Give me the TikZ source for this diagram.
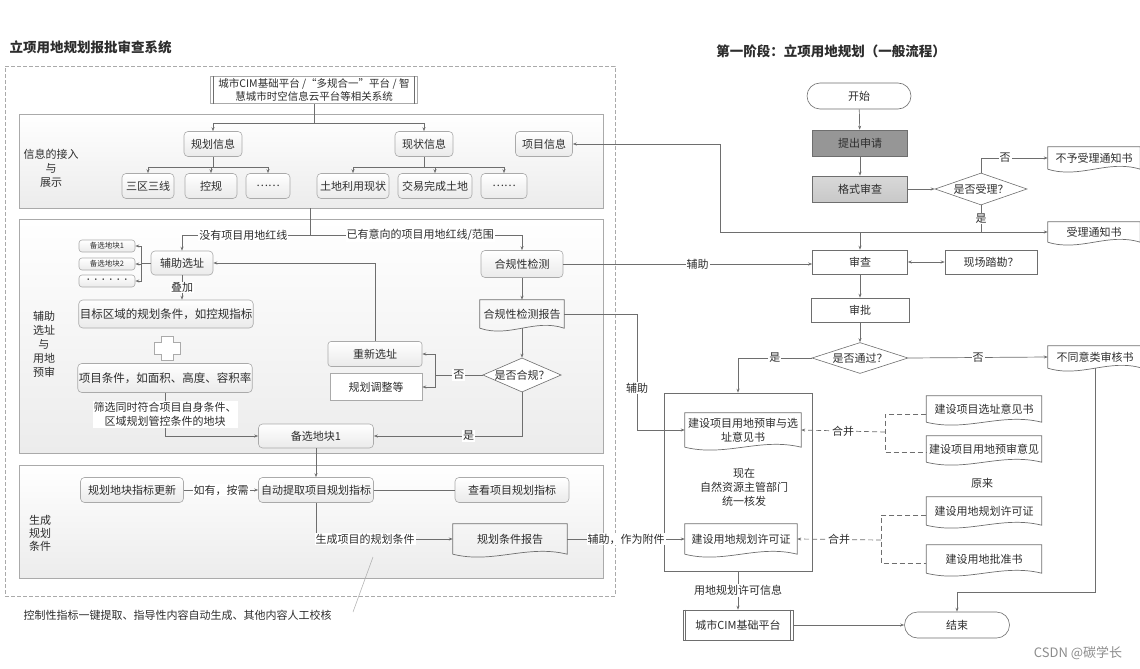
\documentclass[tikz,border=0pt]{standalone}
\usepackage{fontspec}
\setmainfont{Noto Sans CJK SC}
\usepackage{tikz}
\usetikzlibrary{shapes.geometric, arrows.meta, positioning, calc}
\definecolor{linecolor}{RGB}{110,110,110}
\definecolor{textcolor}{RGB}{45,45,45}
\definecolor{edgecolor}{RGB}{170,170,170}
\definecolor{boxshade}{RGB}{234,234,234}
\definecolor{panelshade}{RGB}{236,236,236}
\definecolor{applycolor}{RGB}{150,150,150}
\definecolor{formcolor}{RGB}{200,200,200}
\definecolor{markcolor}{RGB}{140,140,140}
\newcommand{\boxfont}{\fontsize{11}{14}\selectfont}
\newcommand{\bigboxfont}{\fontsize{11.5}{14}\selectfont}
\newcommand{\smallfont}{\fontsize{7.5}{9}\selectfont}
\newcommand{\titlefont}{\fontsize{13.5}{16}\selectfont\bfseries}
\newcommand{\docline}[1]{%
  \draw[wire] (#1.south west) -- (#1.north west) -- (#1.north east) -- (#1.south east)
    .. controls ($(#1.south east)!0.35!(#1.south west)+(0,10pt)$) and ($(#1.south east)!0.65!(#1.south west)+(0,-10pt)$) .. (#1.south west);}
\newcommand{\sidelines}[1]{%
  \draw[wire] ([xshift=3pt]#1.north west) -- ([xshift=3pt]#1.south west)
    ([xshift=-3pt]#1.north east) -- ([xshift=-3pt]#1.south east);}

\begin{document}
\begin{tikzpicture}[
    x=1pt, y=-1pt,
    wire/.style={draw=linecolor, line width=0.7pt},
    arrow/.style={wire, -{Stealth[length=4pt, width=3pt]}},
    dashwire/.style={wire, dash pattern=on 5pt off 3pt},
    dasharrow/.style={arrow, dash pattern=on 5pt off 3pt},
    panel/.style={draw=edgecolor, line width=0.6pt, top color=white, bottom color=panelshade},
    box/.style={draw=edgecolor, line width=0.6pt, rounded corners=4pt, top color=white, bottom color=boxshade, minimum height=25, inner sep=1pt, font=\boxfont, text=textcolor},
    flat/.style={draw=linecolor, line width=0.6pt, fill=white, minimum height=25, inner sep=1pt, font=\boxfont, text=textcolor},
    doc/.style={minimum height=26, inner sep=1pt, font=\boxfont, text=textcolor, align=center},
    decision/.style={diamond, draw=linecolor, line width=0.6pt, fill=white, inner sep=0pt, font=\boxfont, text=textcolor},
    terminal/.style={draw=linecolor, line width=0.6pt, fill=white, rounded corners=13pt, minimum height=26, font=\boxfont, text=textcolor},
    lbl/.style={fill=white, inner sep=1pt, font=\boxfont, text=textcolor},
    plain/.style={font=\boxfont, text=textcolor, align=center},
]
    \useasboundingbox (0,0) rectangle (1140,669);

    % Titles
    \node[font=\titlefont, text=textcolor, anchor=west] (systitle) at (6,47) {立项用地规划报批审查系统};
    \node[font=\titlefont, text=textcolor] (flowtitle) at (831,51) {第一阶段：立项用地规划（一般流程）};

    % Frame and panels
    \node[draw=edgecolor, dash pattern=on 4pt off 2pt, minimum width=610, minimum height=530] (sysframe) at (310,331) {};
    \node[panel, minimum width=584, minimum height=94] (infopanel) at (311,161) {};
    \node[panel, minimum width=584, minimum height=234] (sitepanel) at (311,336) {};
    \node[panel, minimum width=584, minimum height=113] (condpanel) at (311,521.5) {};
    \node[plain] (infolabel) at (51,168) {信息的接入\\与\\展示};
    \node[plain] (sitelabel) at (44,344) {辅助\\选址\\与\\用地\\预审};
    \node[plain, font=\fontsize{11}{13}\selectfont] (condlabel) at (40,533) {生成\\规划\\条件};

    % Information access
    \node[flat, draw=edgecolor, minimum width=207, minimum height=27, align=center, font=\fontsize{10.5}{13}\selectfont] (sysbox) at (314,90) {城市CIM基础平台 /“多规合一”平台 / 智\\慧城市时空信息云平台等相关系统};
    \sidelines{sysbox}
    \node[box, minimum width=58] (planinfo) at (213,144) {规划信息};
    \node[box, minimum width=58] (statusinfo) at (424,144) {现状信息};
    \node[box, minimum width=57] (projinfo) at (544,144) {项目信息};
    \node[box, minimum width=52] (sanqu) at (148,186) {三区三线};
    \node[box, minimum width=52] (kongui) at (211,186) {控规};
    \node[box, minimum width=44] (planmore) at (268,186) {……};
    \node[box, minimum width=72] (landuse) at (353,186) {土地利用现状};
    \node[box, minimum width=74] (traded) at (435,186) {交易完成土地};
    \node[box, minimum width=46] (statusmore) at (504,186) {……};

    \coordinate (infosplit) at (314,123);
    \coordinate (plansplit) at (213,167);
    \coordinate (statussplit) at (424,167);
    \draw[wire] (sysbox.south) -- (infosplit);
    \draw[arrow] (infosplit) -| (planinfo.north);
    \draw[arrow] (infosplit) -| (statusinfo.north);
    \draw[wire] (planinfo.south) -- (plansplit);
    \draw[wire] (statusinfo.south) -- (statussplit);
    \foreach \n in {sanqu, kongui, planmore}
        \draw[arrow] (plansplit) -| (\n.north);
    \foreach \n in {landuse, traded, statusmore}
        \draw[arrow] (statussplit) -| (\n.north);

    % Site selection and pre-review
    \coordinate (sitesplit) at (310,235);
    \node[box, minimum width=62, minimum height=24] (assist) at (182,263) {辅助选址};
    \node[box, font=\smallfont, minimum width=56, minimum height=12, rounded corners=3pt] (cand1s) at (107,246) {备选地块1};
    \node[box, font=\smallfont, minimum width=56, minimum height=12, rounded corners=3pt] (cand2s) at (107,264) {备选地块2};
    \node[box, font=\smallfont, minimum width=56, minimum height=12, rounded corners=3pt] (candmore) at (107,281) {••••••};
    \coordinate (candsplit) at (141,263);
    \node[box, font=\bigboxfont, minimum width=170, minimum height=28] (targetcond) at (166,314) {目标区域的规划条件，如控规指标};
    \draw[draw=edgecolor, fill=white, line width=0.6pt, shift={(167,348)}] (-6,-12) -- (6,-12) -- (6,-6) -- (13,-6) -- (13,6) -- (6,6) -- (6,12) -- (-6,12) -- (-6,6) -- (-13,6) -- (-13,-6) -- (-6,-6) -- cycle;
    \node[box, font=\bigboxfont, minimum width=168, minimum height=29] (projcond) at (165,378) {项目条件，如面积、高度、容积率};
    \node[box, minimum width=115, minimum height=24] (cand1) at (316,436) {备选地块1};
    \node[box, minimum width=82, minimum height=27] (compcheck) at (522,264) {合规性检测};
    \node[doc, minimum width=84, minimum height=28] (compreport) at (522,314) {合规性检测报告};
    \docline{compreport}
    \node[decision, minimum width=78, minimum height=34, aspect=2.3] (compdec) at (522,375) {是否合规？};
    \node[box, minimum width=94, minimum height=25, rounded corners=3pt] (reselect) at (375,354) {重新选址};
    \node[flat, draw=edgecolor, minimum width=92, minimum height=27] (adjust) at (376,387) {规划调整等};
    \coordinate (nosplit) at (435,375);

    \draw[arrow] (sitesplit) -| node[lbl, pos=0.26] {没有项目用地红线} (assist.north);
    \draw[arrow] (sitesplit) -| node[lbl, pos=0.26] {已有意向的项目用地红线/范围} (compcheck.north);
    \draw[wire] (infopanel.south -| sitesplit) -- (sitesplit);
    \draw[wire] (assist.west) -- (candsplit);
    \foreach \n in {cand1s, cand2s, candmore}
        \draw[arrow] (candsplit) |- (\n.east);
    \draw[arrow] (assist.south) -- node[lbl] {叠加} (assist.south |- targetcond.north);
    \draw[arrow] (projcond.south) |- node[lbl, pos=0.25, align=center] {筛选同时符合项目自身条件、\\区域规划管控条件的地块} (cand1.west);
    \draw[arrow] (compcheck) -- (compreport);
    \draw[arrow] (compreport.south) -- (compdec.north);
    \draw[wire] (compdec.west) -- node[lbl] {否} (nosplit);
    \draw[arrow] (nosplit) |- (reselect.east);
    \draw[arrow] (nosplit) |- (adjust.east);
    \draw[arrow] (reselect.north) |- (assist.east);
    \draw[arrow] (compdec.south) |- node[lbl, pos=0.68] {是} (cand1.east);

    % Planning conditions
    \node[box, minimum width=103] (updateidx) at (132,490) {规划地块指标更新};
    \node[box, minimum width=115] (autoextract) at (316,490) {自动提取项目规划指标};
    \node[box, minimum width=114] (viewidx) at (512,490) {查看项目规划指标};
    \node[doc, minimum width=114, minimum height=30] (condreport) at (510,539) {规划条件报告};
    \docline{condreport}
    \draw[arrow] (cand1.south) -- (autoextract.north);
    \draw[arrow] (updateidx) -- node[lbl] {如有，按需} (autoextract);
    \draw[wire] (autoextract) -- (viewidx);
    \draw[arrow] (autoextract.south) |- node[lbl, pos=0.68] {生成项目的规划条件} (condreport.west);

    % Note
    \node[plain, anchor=west] (ctrlnote) at (20,615) {控制性指标一键提取、指导性内容自动生成、其他内容人工校核};
    \coordinate (notetip) at (373,557);
    \coordinate (notefoot) at (353,612);
    \draw[draw=edgecolor, line width=0.5pt] (notefoot) -- (notetip);

    % General flow
    \node[terminal, minimum width=104] (start) at (859,96) {开始};
    \node[flat, fill=applycolor, minimum width=95, minimum height=26] (apply) at (860,143) {提出申请};
    \node[flat, top color=formcolor!70, bottom color=formcolor, minimum width=95, minimum height=26] (formcheck) at (860,189) {格式审查};
    \node[decision, minimum width=92, minimum height=32, aspect=2.9] (acceptdec) at (981,189) {是否受理？};
    \node[doc, minimum width=92, minimum height=22] (rejectnote) at (1094,158) {不予受理通知书};
    \docline{rejectnote}
    \node[doc, minimum width=92, minimum height=20] (acceptnote) at (1094,232) {受理通知书};
    \docline{acceptnote}
    \coordinate (acceptjoin) at (981,232);
    \coordinate (projturn) at (720,232);
    \node[flat, minimum width=95, minimum height=24] (review) at (860,262) {审查};
    \node[flat, minimum width=92, minimum height=24] (survey) at (991,262) {现场踏勘？};
    \node[flat, minimum width=98, minimum height=24] (approve) at (860,310) {审批};
    \node[decision, minimum width=96, minimum height=31, aspect=3] (passdec) at (860,358) {是否通过？};
    \node[doc, minimum width=94, minimum height=22] (rejectreview) at (1095,357) {不同意类审核书};
    \docline{rejectreview}
    \coordinate (endturn) at (1095,592);

    \draw[arrow] (start) -- (apply);
    \draw[arrow] (apply) -- (formcheck);
    \draw[arrow] (formcheck) -- (acceptdec);
    \draw[arrow] (acceptdec.north) |- node[lbl, pos=0.68] {否} (rejectnote.west);
    \draw[wire] (acceptdec.south) -- node[lbl] {是} (acceptjoin);
    \draw[arrow] (acceptjoin) -- (acceptnote.west);
    \draw[arrow] (acceptjoin) -- (projturn) |- (projinfo.east);
    \draw[arrow] (review.north |- acceptjoin) -- (review.north);
    \draw[{Stealth[length=4pt, width=3pt]}-{Stealth[length=4pt, width=3pt]}, wire] (review) -- (survey);
    \draw[arrow] (compcheck.east) -- node[lbl, pos=0.54] {辅助} (compcheck.east -| review.west);
    \draw[arrow] (review) -- (approve);
    \draw[arrow] (approve) -- (passdec);
    \draw[arrow] (passdec.east) -- node[lbl] {否} (rejectreview.west);

    % Issued documents
    \node[draw=linecolor, line width=0.6pt, minimum width=148, minimum height=178] (bigbox) at (738,482) {};
    \node[doc, minimum width=116, minimum height=34] (prereview) at (743,430) {建设项目用地预审与选\\址意见书};
    \docline{prereview}
    \node[plain] (nowtext) at (744,487) {现在\\自然资源主管部门\\统一核发};
    \node[doc, minimum width=112, minimum height=30] (planpermit) at (741,539) {建设用地规划许可证};
    \docline{planpermit}
    \coordinate (auxturn) at (637,430);
    \draw[arrow] (passdec.west) -| node[lbl, pos=0.25] {是} (bigbox.north);
    \draw[arrow] (compreport.east) -| node[lbl, pos=0.82] {辅助} (auxturn) -- (prereview.west);
    \draw[arrow] (condreport.east) -- node[lbl] {辅助，作为附件} (planpermit.west);

    % Former documents
    \node[doc, minimum width=115, minimum height=26] (siteopinion) at (984,409) {建设项目选址意见书};
    \docline{siteopinion}
    \node[doc, minimum width=115, minimum height=26] (preopinion) at (984,449) {建设项目用地预审意见};
    \docline{preopinion}
    \node[plain] (formerly) at (982,483) {原来};
    \node[doc, minimum width=115, minimum height=28] (landpermit) at (984,511) {建设用地规划许可证};
    \docline{landpermit}
    \node[doc, minimum width=115, minimum height=28] (landapproval) at (984,559) {建设用地批准书};
    \docline{landapproval}
    \coordinate (merge1) at (885,432);
    \coordinate (merge2) at (881,540);
    \draw[dashwire] ([yshift=-5pt]siteopinion.west) -| (merge1) |- ([yshift=-3pt]preopinion.west);
    \draw[dasharrow] (merge1) -- node[lbl] {合并} (prereview.east);
    \draw[dashwire] ([yshift=-4pt]landpermit.west) -| (merge2) |- ([yshift=-4pt]landapproval.west);
    \draw[dasharrow] (merge2) -- node[lbl] {合并} (planpermit.east);

    % Platform and end
    \node[flat, minimum width=110, minimum height=30] (cimbox) at (738,625) {城市CIM基础平台};
    \sidelines{cimbox}
    \node[terminal, minimum width=105] (finish) at (957,625) {结束};
    \draw[arrow] (bigbox.south -| cimbox.north) -- node[lbl] {用地规划许可信息} (cimbox.north);
    \draw[arrow] (cimbox) -- (finish);
    \draw[arrow] (rejectreview.south) -- (endturn) -| (finish.north);

    \node[font=\fontsize{13}{15}\selectfont, text=markcolor] (watermark) at (1078,653) {CSDN @碳学长};
\end{tikzpicture}
\end{document}
